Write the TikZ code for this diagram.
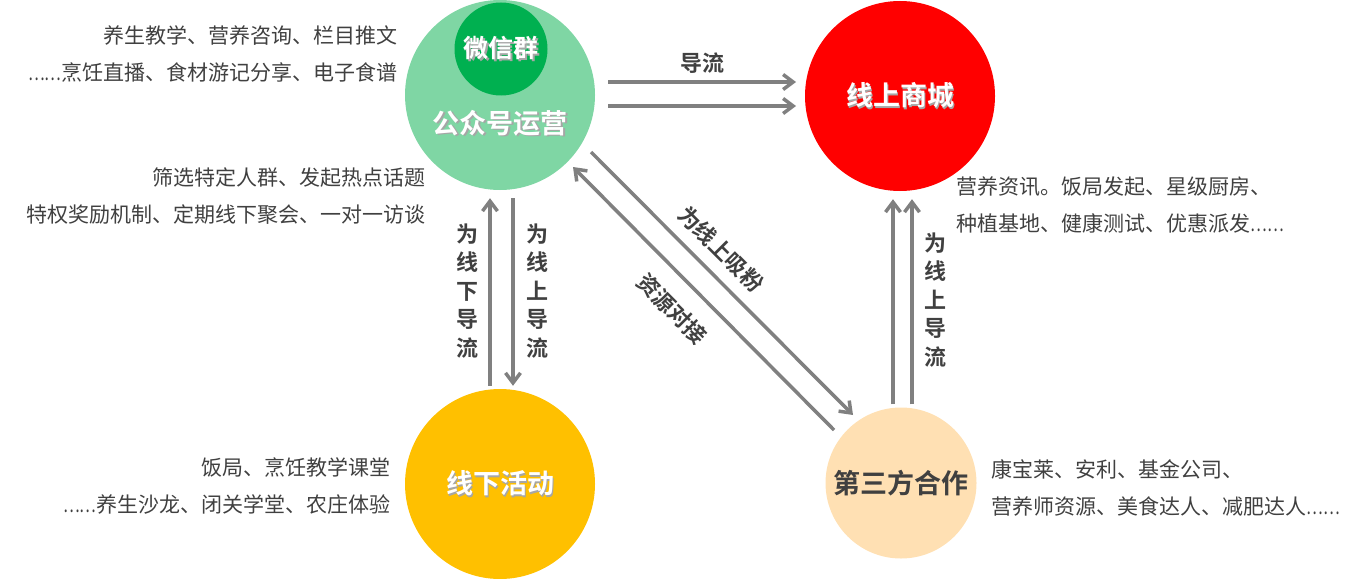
\documentclass[tikz,border=0pt]{standalone}
\usepackage{fontspec}
\setmainfont{Noto Sans CJK SC}[BoldFont={Noto Sans CJK SC Bold}]
\usetikzlibrary{arrows.meta,positioning}
\definecolor{gzhgreen}{HTML}{7FD6A4}
\definecolor{wxgreen}{HTML}{00B050}
\definecolor{shopred}{HTML}{FF0000}
\definecolor{offyellow}{HTML}{FFC000}
\definecolor{partpeach}{HTML}{FFE0B3}
\definecolor{txtgray}{HTML}{404040}
\definecolor{arrowgray}{HTML}{808080}
\newcommand\shadowed[1]{\makebox[0pt][l]{\kern1.5pt\raisebox{-1.5pt}{\color{black!35}#1}}#1}
\newcommand\dotsx{\scalebox{0.75}[1]{……}}
\begin{document}
\begin{tikzpicture}[x=1pt,y=-1pt,
	bub/.style={circle,inner sep=0pt},
	title/.style={font=\fontsize{27}{30}\selectfont\bfseries,text=white},
	note/.style={font=\fontsize{21}{37}\selectfont,text=txtgray},
	tag/.style={font=\fontsize{22}{28.5}\selectfont\bfseries,text=txtgray,align=center},
	flow/.style={draw=arrowgray,line width=3.5pt,
	-{Straight Barb[length=10pt,width=15pt]}}]
\useasboundingbox (0,0) rectangle (1362,578);
% circles
\node[bub,fill=gzhgreen,minimum size=190pt] (gzh) at (500,95) {};
\node[bub,fill=wxgreen,minimum size=93pt] (wx) at (501,49) {};
\node[title,font=\fontsize{25}{28}\selectfont\bfseries] at (wx) {\shadowed{微信群}};
\node[title] (gzht) at (500,124) {\shadowed{公众号运营}};
\node[bub,fill=shopred,minimum size=190pt,title] (shop) at (900,96) {\shadowed{线上商城}};
\node[bub,fill=offyellow,minimum size=190pt,title] (off) at (500,484) {\shadowed{线下活动}};
\node[bub,fill=partpeach,minimum size=151pt,title,text=txtgray] (part) at (901,483) {第三方合作};
% notes
\node[note,align=right,anchor=east] (n1) at (401,54) {养生教学、营养咨询、栏目推文\\\dotsx 烹饪直播、食材游记分享、电子食谱};
\node[note,align=right,anchor=east] (n2) at (429,196) {筛选特定人群、发起热点话题\\特权奖励机制、定期线下聚会、一对一访谈};
\node[note,align=left,anchor=west] (n3) at (953,205) {营养资讯。饭局发起、星级厨房、\\种植基地、健康测试、优惠派发\dotsx};
\node[note,align=right,anchor=east] (n4) at (394,486) {饭局、烹饪教学课堂\\\dotsx 养生沙龙、闭关学堂、农庄体验};
\node[note,align=left,anchor=west] (n5) at (988,488) {康宝莱、安利、基金公司、\\营养师资源、美食达人、减肥达人\dotsx};
% connectors
\draw[flow] ([shift={(108,-13)}]gzh.center) -- ([shift={(-104,-14)}]shop.center);
\draw[flow] ([shift={(108,11)}]gzh.center) -- ([shift={(-104,10)}]shop.center);
\node[tag] at (702,63) {导流};
\draw[flow,shorten <=3pt,shorten >=8pt] ([xshift=-10pt]off.north) -- ([xshift=-10pt]gzh.south);
\draw[flow,shorten <=8pt,shorten >=3pt] ([xshift=13pt]gzh.south) -- ([xshift=13pt]off.north);
\node[tag] at (467,291) {为\\线\\下\\导\\流};
\node[tag] at (537,291) {为\\线\\上\\导\\流};
\draw[flow] ([shift={(91,57)}]gzh.center) -- ([shift={(-48,-68)}]part.center);
\draw[flow] ([shift={(-67,-53)}]part.center) -- ([shift={(73,72)}]gzh.center);
\node[tag,rotate=-45] at (721,249) {为线上吸粉};
\node[tag,rotate=-45] at (672,309) {资源对接};
\draw[flow,shorten <=3pt,shorten >=8pt] ([xshift=-8pt]part.north) -- ([xshift=-7pt]shop.south);
\draw[flow,shorten <=3pt,shorten >=8pt] ([xshift=11pt]part.north) -- ([xshift=12pt]shop.south);
\node[tag] at (935,300) {为\\线\\上\\导\\流};
\end{tikzpicture}
\end{document}
